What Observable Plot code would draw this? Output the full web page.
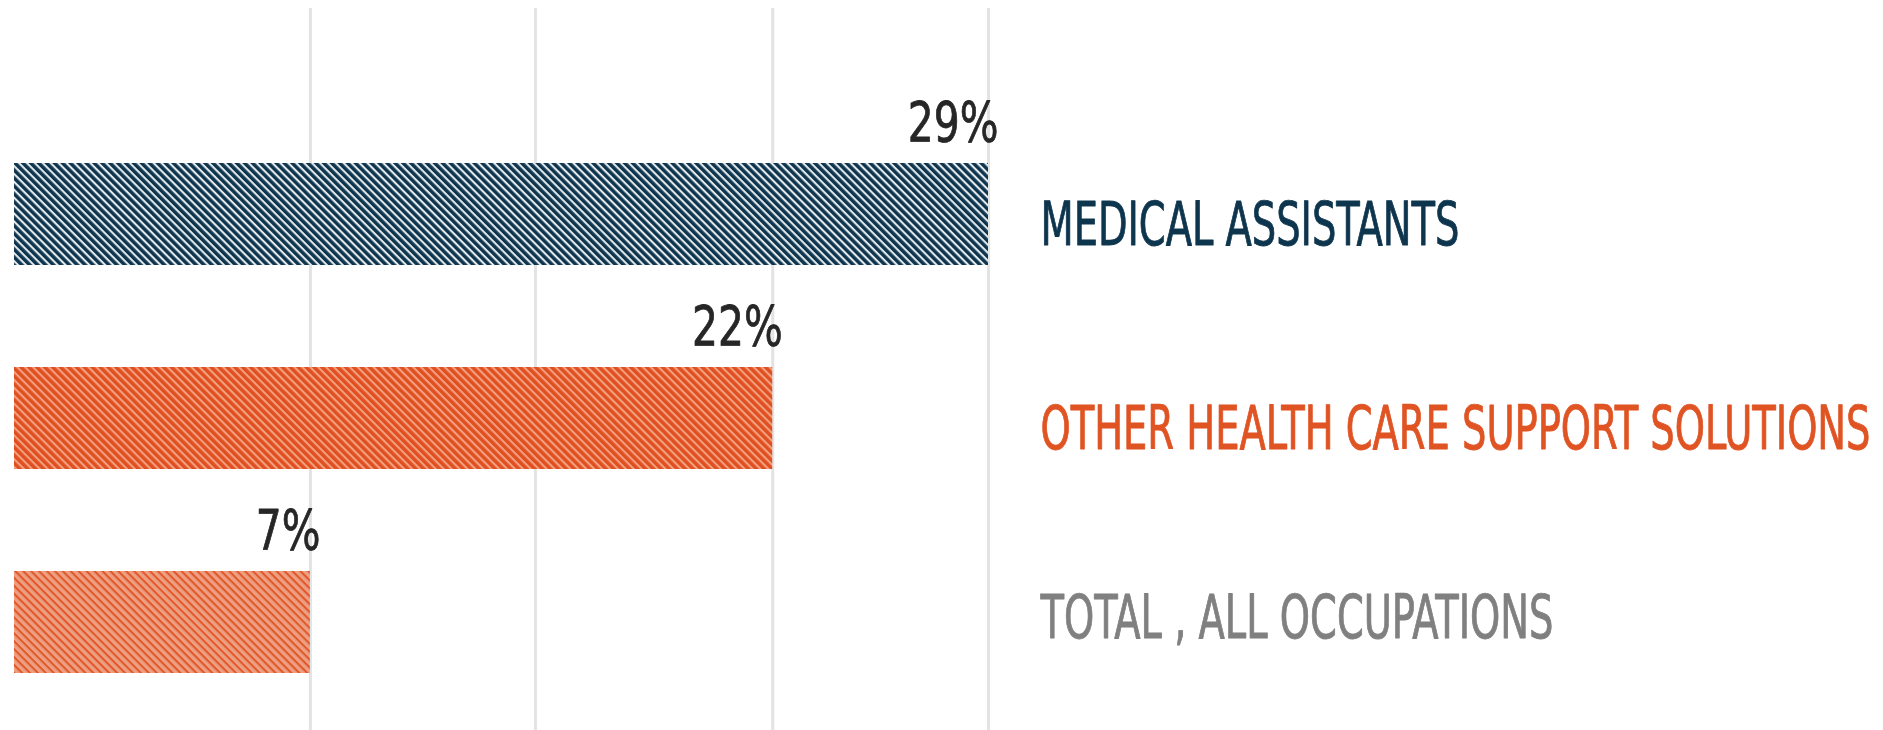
<!DOCTYPE html>
<html><head><meta charset="utf-8">
<script src="https://cdn.jsdelivr.net/npm/d3@7"></script>
<script src="https://cdn.jsdelivr.net/npm/@observablehq/plot@0.6"></script>
<style>
html,body{margin:0;padding:0;background:#fff;overflow:hidden;}
#chart svg{display:block;}
</style></head><body><div id="chart"></div>
<script>
const categories = ["MEDICAL ASSISTANTS", "OTHER HEALTH CARE SUPPORT SOLUTIONS", "TOTAL , ALL OCCUPATIONS"];
const values = [29, 22, 7];
const valueLabels = ["29%", "22%", "7%"];
const gridValues = [7, 14.3, 22, 29];
const barPatterns = ["pat-navy", "pat-orange", "pat-salmon"];
const labelColors = ["#0e354e", "#e05424", "#808080"];

const data = categories.map((c, i) => ({
  category: c, value: values[i], label: valueLabels[i],
  fill: `url(#${barPatterns[i]})`, color: labelColors[i]
}));

const xMin = -2.6;
const FONT = "'DejaVu Sans Condensed', 'Liberation Sans Narrow', 'Liberation Sans', sans-serif";

const plot = Plot.plot({
  width: 1883, height: 730,
  marginTop: 8, marginBottom: 0, marginLeft: 14, marginRight: 895,
  x: {domain: [xMin, 29], axis: null},
  y: {domain: categories, range: [163, 673], paddingInner: 0.5, paddingOuter: 0, axis: null},
  color: {type: "identity"},
  style: {background: "white"},
  marks: [
    Plot.ruleX(gridValues, {stroke: "#e3e3e3", strokeWidth: 3}),
    Plot.barX(data, {x1: xMin, x2: "value", y: "category", fill: "fill"}),
    Plot.text(data, {x: "value", y: "category", text: "label", textAnchor: "end", lineAnchor: "bottom",
      dx: 10, dy: -74, fill: "#262626", stroke: "#262626", strokeWidth: 0.8,
      fontSize: 56, fontFamily: FONT, className: "val-label"}),
    Plot.text(data.slice(0, 2), {y: "category", frameAnchor: "right", text: "category", textAnchor: "start",
      dx: 52, dy: 11, fill: "color", stroke: "color", strokeWidth: 0.9,
      fontSize: 61, fontFamily: FONT, className: "cat-label"}),
    Plot.text(data.slice(2), {y: "category", frameAnchor: "right", text: "category", textAnchor: "start",
      dx: 52, dy: -4, fill: "color", stroke: "color", strokeWidth: 0.9,
      fontSize: 61, fontFamily: FONT, className: "cat-label"})
  ]
});

document.getElementById("chart").appendChild(plot);

// Pattern definitions
const svg = d3.select(plot);
const defs = svg.insert("defs", ":first-child");
const patSpecs = [
  {id: "pat-navy", base: "#0e354d", stripe: "#eef3f6", op: 0.95},
  {id: "pat-orange", base: "#e04f1f", stripe: "#f3a485", op: 0.95},
  {id: "pat-salmon", base: "#ec9f82", stripe: "#e05424", op: 0.95}
];
for (const p of patSpecs) {
  const pat = defs.append("pattern").attr("id", p.id).attr("patternUnits", "userSpaceOnUse")
    .attr("width", 10).attr("height", 5.6).attr("patternTransform", "rotate(45)");
  pat.append("rect").attr("width", 10).attr("height", 5.6).attr("fill", p.base);
  pat.append("rect").attr("y", 0).attr("width", 10).attr("height", 2.1).attr("fill", p.stripe).attr("fill-opacity", p.op);
}

// Condense labels to mimic the narrow display face
const condense = (sel, f) => sel.each(function() {
  const len = this.getComputedTextLength();
  this.setAttribute("textLength", (len * f).toFixed(1));
  this.setAttribute("lengthAdjust", "spacingAndGlyphs");
});
condense(svg.selectAll(".cat-label text"), 0.70);
condense(svg.selectAll(".val-label text"), 0.81);
</script>
</body></html>
